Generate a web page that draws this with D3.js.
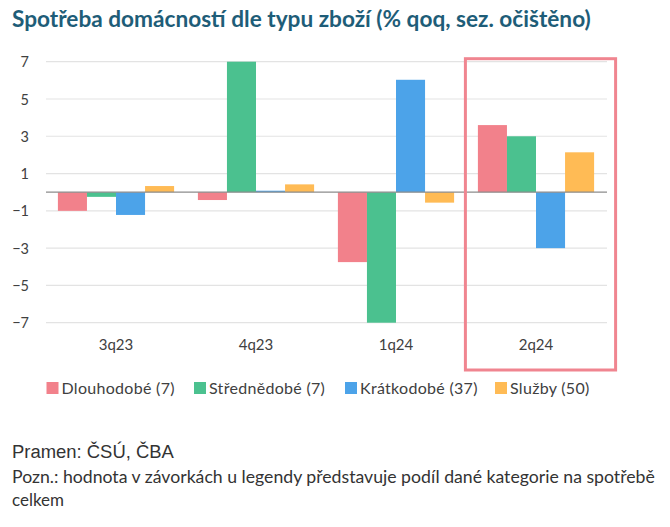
<!DOCTYPE html>
<html><head><meta charset="utf-8">
<script src="https://cdn.jsdelivr.net/npm/d3@7"></script>
<style>body{margin:0;background:#fff}svg{display:block}</style>
</head><body>
<svg id="c" width="670" height="527"></svg>
<script>
const categories = ["3q23", "4q23", "1q24", "2q24"];
const seriesNames = ["Dlouhodobé (7)", "Střednědobé (7)", "Krátkodobé (37)", "Služby (50)"];
const dlouhodobe = [-1.0, -0.42, -3.75, 3.6];
const strednedobe = [-0.25, 7.0, -7.0, 3.0];
const kratkodobe = [-1.22, 0.08, 6.03, -3.0];
const sluzby = [0.33, 0.42, -0.56, 2.14];
const yTicks = [7, 5, 3, 1, -1, -3, -5, -7];
const highlighted = "2q24";
const colors = ["#F2818B", "#4BC18F", "#4CA3E9", "#FFBB55"];

const series = [dlouhodobe, strednedobe, kratkodobe, sluzby];
const svg = d3.select("#c");
const FONT = "Lato, 'Open Sans', sans-serif";

function fit(sel, w) {
  const n = sel.node();
  const cur = parseFloat(sel.attr("font-size"));
  const len = n.getComputedTextLength();
  sel.attr("font-size", (cur * w / len).toFixed(2));
}

// title
svg.append("text").attr("x", 12).attr("y", 27)
  .attr("font-family", FONT).attr("font-weight", "bold")
  .attr("font-size", 20).attr("fill", "#1E5D78")
  .text("Spotřeba domácností dle typu zboží (% qoq, sez. očištěno)")
  .call(fit, 579);

const x0 = d3.scaleBand().domain(categories).range([46, 606]).paddingInner(0.17).paddingOuter(0.085);
const x1 = d3.scaleBand().domain(d3.range(series.length)).range([0, x0.bandwidth()]);
const y = d3.scaleLinear().domain([-7, 7]).range([322.7, 61.7]);

// grid
svg.append("g").selectAll("line").data(yTicks).join("line")
  .attr("x1", 46).attr("x2", 607).attr("y1", d => y(d)).attr("y2", d => y(d))
  .attr("stroke", "#E3E3E3").attr("stroke-width", 1.2);

const yAxis = d3.axisLeft(y).tickValues(yTicks).tickSize(0).tickPadding(0).tickFormat(d3.format("d"));
const ga = svg.append("g").attr("transform", "translate(29,0)").call(yAxis);
ga.select(".domain").remove();
ga.selectAll("text").attr("font-family", FONT).attr("font-size", 14.5).attr("fill", "#404040").attr("dy", "0.35em");

// bars
const rows = categories.map((c, i) => ({c, vals: series.map(s => s[i])}));
svg.append("g").selectAll("g").data(rows).join("g")
  .attr("transform", d => `translate(${x0(d.c)},0)`)
  .selectAll("rect").data(d => d.vals.map((v, k) => ({v, k}))).join("rect")
  .attr("x", d => x1(d.k)).attr("width", x1.bandwidth())
  .attr("y", d => y(Math.max(0, d.v))).attr("height", d => Math.abs(y(d.v) - y(0)))
  .attr("fill", d => colors[d.k]);

// zero line
svg.append("line").attr("x1", 46).attr("x2", 607).attr("y1", y(0)).attr("y2", y(0))
  .attr("stroke", "#8C8C8C").attr("stroke-width", 1.2);

// x axis labels
const xAxis = d3.axisBottom(x0).tickSize(0).tickPadding(0);
const gx = svg.append("g").attr("transform", "translate(0,345)").call(xAxis);
gx.select(".domain").remove();
gx.selectAll("text").attr("font-family", FONT).attr("font-size", 15).attr("fill", "#404040").attr("dy", "0.35em");

// highlight box
const hx = x0(highlighted);
svg.append("rect").attr("x", hx - 12.5).attr("y", y(7) - 3)
  .attr("width", x0.bandwidth() + 34).attr("height", 370 - (y(7) - 3))
  .attr("fill", "none").attr("stroke", "#F08590").attr("stroke-width", 3);

// legend
const legX = [46.5, 194, 345, 495];
const legW = [115, 116, 127, 78];
const lg = svg.append("g").selectAll("g").data(seriesNames).join("g")
  .attr("transform", (d, i) => `translate(${legX[i]},388)`);
lg.append("rect").attr("x", 0).attr("y", -6).attr("width", 12).attr("height", 12).attr("fill", (d, i) => colors[i]);
const lt = lg.append("text").attr("x", 15).attr("y", 0).attr("dy", "0.35em")
  .attr("font-family", FONT).attr("font-size", 15).attr("fill", "#404040")
  .attr("letter-spacing", 0.3)
  .text(d => d);
let scales = [];
lt.each(function(d, i) { scales.push(legW[i] / this.getComputedTextLength()); });
const legSize = Math.min(16, 15 * d3.mean(scales));
lt.attr("font-size", legSize.toFixed(2));

// footer
svg.append("text").attr("x", 12).attr("y", 458)
  .attr("font-family", "'Liberation Sans', Arial, sans-serif").attr("font-size", 16).attr("fill", "#333")
  .text("Pramen: ČSÚ, ČBA").call(fit, 162);
svg.append("text").attr("x", 12).attr("y", 483)
  .attr("font-family", FONT).attr("font-size", 15).attr("fill", "#333")
  .text("Pozn.: hodnota v závorkách u legendy představuje podíl dané kategorie na spotřebě").call(fit, 643);
svg.append("text").attr("x", 12).attr("y", 506)
  .attr("font-family", FONT).attr("font-size", 15).attr("fill", "#333")
  .text("celkem").call(fit, 52);
</script>
</body></html>
